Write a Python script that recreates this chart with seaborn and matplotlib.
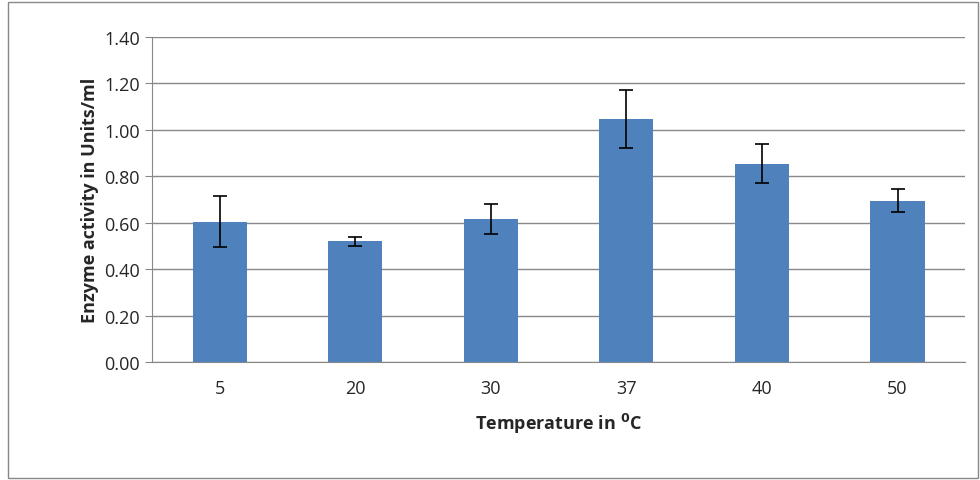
import seaborn as sns
import pandas as pd
import numpy as np
import matplotlib.pyplot as plt

temps = ["5", "20", "30", "37", "40", "50"]
activity = [0.605, 0.52, 0.615, 1.045, 0.855, 0.695]
errors = [0.11, 0.02, 0.065, 0.125, 0.085, 0.05]

df = pd.DataFrame({"temp": temps, "activity": activity})

sns.set_style("white")
plt.rcParams['font.family'] = ['Open Sans', 'DejaVu Sans']

fig = plt.figure(figsize=(9.8, 4.81), dpi=100)
ax = fig.add_axes([0.155, 0.245, 0.83, 0.676])
fig.patches.append(plt.Rectangle((0.008, 0.004), 0.99, 0.99, transform=fig.transFigure,
                                 fill=False, edgecolor='#888888', lw=1))

sns.barplot(data=df, x="temp", y="activity", color="#4F81BD", saturation=1,
            width=0.4, ax=ax, zorder=3, linewidth=0)
ax.errorbar(np.arange(len(temps)), activity, yerr=errors, fmt='none',
            ecolor='black', capsize=5, elinewidth=1.2, capthick=1.2, zorder=4)

ax.set_ylim(0, 1.4)
ax.set_xlim(-0.5, 5.5)
ax.set_yticks(np.arange(0, 1.41, 0.2))
ax.set_yticklabels([f"{v:.2f}" for v in np.arange(0, 1.41, 0.2)], fontsize=13)
ax.tick_params(axis='x', labelsize=13, length=0, pad=12)
ax.set_xticks(np.arange(-0.5, 5.6, 1), minor=True)
ax.tick_params(axis='x', which='minor', length=6, color='#888888', direction='out')
ax.tick_params(axis='y', length=5, color='#888888', direction='out', left=True)
ax.grid(axis='y', color='#888888', lw=1, zorder=0)
ax.set_axisbelow(True)
for s in ['top', 'right']:
    ax.spines[s].set_visible(False)
for s in ['left', 'bottom']:
    ax.spines[s].set_color('#888888')
ax.set_xlabel(r"Temperature in $\mathbf{^{0}}$C", fontsize=13, fontweight='bold', labelpad=10)
ax.set_ylabel("Enzyme activity in Units/ml", fontsize=13, fontweight='bold')

fig.savefig("out.png", dpi=100)
